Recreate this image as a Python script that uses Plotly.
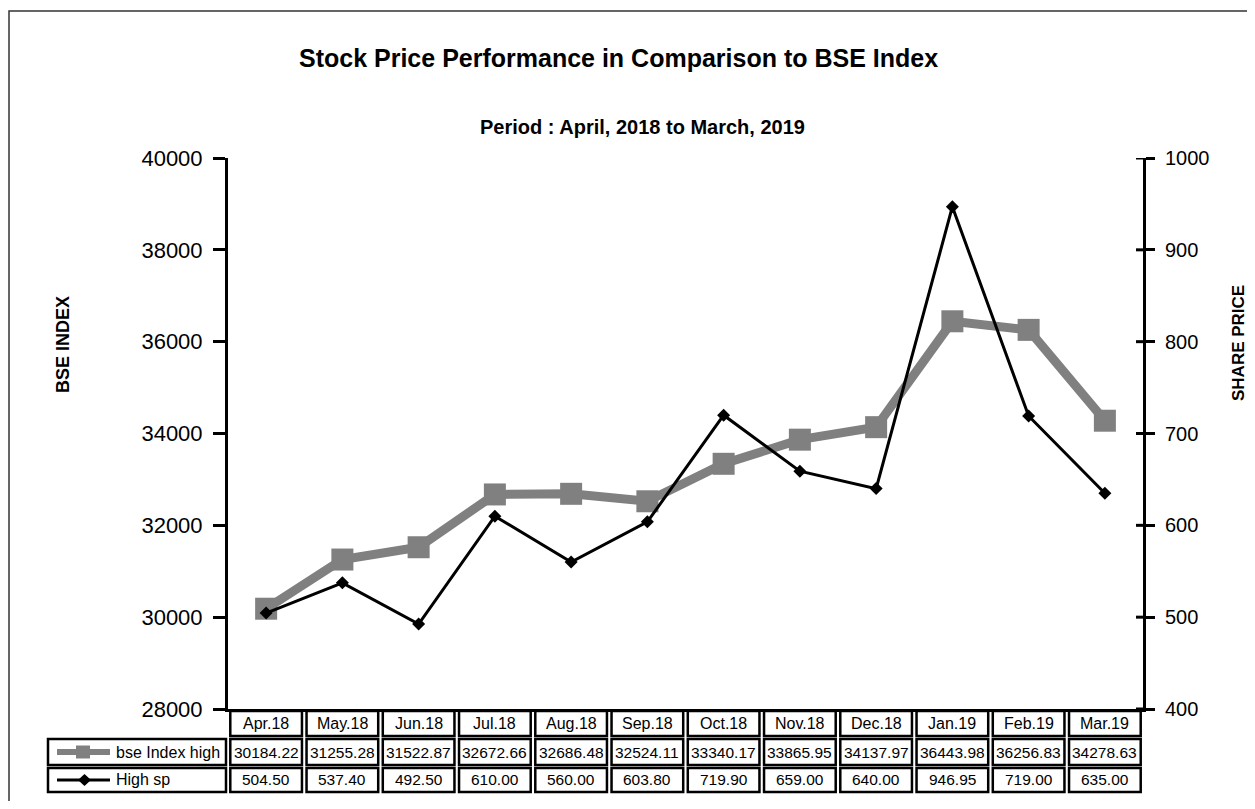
import plotly.graph_objects as go

months = ["Apr.18", "May.18", "Jun.18", "Jul.18", "Aug.18", "Sep.18",
          "Oct.18", "Nov.18", "Dec.18", "Jan.19", "Feb.19", "Mar.19"]
bse_high = [30184.22, 31255.28, 31522.87, 32672.66, 32686.48, 32524.11,
            33340.17, 33865.95, 34137.97, 36443.98, 36256.83, 34278.63]
high_sp = [504.50, 537.40, 492.50, 610.00, 560.00, 603.80,
           719.90, 659.00, 640.00, 946.95, 719.00, 635.00]
series_names = ["bse Index high", "High sp"]
y1_range, y1_step = [28000, 40000], 2000
y2_range, y2_step = [400, 1000], 100

W, H = 1255, 809
OFF = 8  # default body margin of the html page
FW, FH = W - 2 * OFF, H - 2 * OFF
L, R, T, B = 228, 1143, 158, 709  # plot area in page pixels
pw, ph = R - L, B - T


def px_x(x):
    return (x - L) / pw


def px_y(y):
    return (B - y) / ph


FONT = "Liberation Sans, Arial, sans-serif"
GRAY = "#808080"

fig = go.Figure()
fig.add_trace(go.Scatter(
    x=months, y=bse_high, name=series_names[0], mode="lines+markers",
    line=dict(color=GRAY, width=9),
    marker=dict(symbol="square", size=22, color=GRAY),
    yaxis="y", showlegend=False))
fig.add_trace(go.Scatter(
    x=months, y=high_sp, name=series_names[1], mode="lines+markers",
    line=dict(color="black", width=3),
    marker=dict(symbol="diamond", size=10, color="black"),
    yaxis="y2", showlegend=False))

shapes = []
annotations = []


def ann(x, xref, y, text, size, xanchor="center", angle=0):
    annotations.append(dict(x=x, xref=xref, y=y, yref="paper", text=text,
                            showarrow=False, xanchor=xanchor, yanchor="middle",
                            textangle=angle,
                            font=dict(family=FONT, size=size, color="black")))


# table rows (page pixel y ranges)
rows = [(711, 736), (739, 765), (768, 792)]
rmid = [px_y((a + b) / 2) for a, b in rows]
for i, m in enumerate(months):
    for r, (y0, y1) in enumerate(rows):
        shapes.append(dict(type="rect", xref="x", yref="paper",
                           x0=i - 0.5 + 0.03, x1=i + 0.5 - 0.03,
                           y0=px_y(y1), y1=px_y(y0),
                           line=dict(color="black", width=2.5),
                           fillcolor="white", layer="above"))
    ann(m, "x", rmid[0], m, 16)
    ann(m, "x", rmid[1], f"{bse_high[i]:.2f}", 15.5)
    ann(m, "x", rmid[2], f"{high_sp[i]:.2f}", 15.5)

# legend column
for r in (1, 2):
    y0, y1 = rows[r]
    shapes.append(dict(type="rect", xref="paper", yref="paper",
                       x0=px_x(48), x1=px_x(226), y0=px_y(y1), y1=px_y(y0),
                       line=dict(color="black", width=2.5), fillcolor="white",
                       layer="above"))

ym1, ym2 = rmid[1], rmid[2]
shapes.append(dict(type="line", xref="paper", yref="paper",
                   x0=px_x(57), x1=px_x(110), y0=ym1, y1=ym1,
                   line=dict(color=GRAY, width=6), layer="above"))
shapes.append(dict(type="rect", xref="paper", yref="paper",
                   x0=px_x(76), x1=px_x(90), y0=ym1 - 6.5 / ph, y1=ym1 + 6.5 / ph,
                   line=dict(color=GRAY, width=0), fillcolor=GRAY, layer="above"))
shapes.append(dict(type="line", xref="paper", yref="paper",
                   x0=px_x(57), x1=px_x(110), y0=ym2, y1=ym2,
                   line=dict(color="black", width=3), layer="above"))
shapes.append(dict(type="path", xref="paper", yref="paper",
                   path=(f"M {px_x(78)} {ym2} L {px_x(84.5)} {ym2 + 6 / ph} "
                         f"L {px_x(91)} {ym2} L {px_x(84.5)} {ym2 - 6 / ph} Z"),
                   line=dict(color="black", width=0), fillcolor="black",
                   layer="above"))
ann(px_x(114), "paper", ym1, series_names[0], 16, xanchor="left")
ann(px_x(114), "paper", ym2, series_names[1], 16, xanchor="left")

# inner half of the crossing ticks on the right axis
v = y2_range[0]
while v <= y2_range[1]:
    shapes.append(dict(type="line", xref="paper", yref="y2",
                       x0=px_x(1136), x1=px_x(1144), y0=v, y1=v,
                       line=dict(color="black", width=3), layer="above"))
    v += y2_step

# outer border (top/left visible)
shapes.append(dict(type="rect", xref="paper", yref="paper",
                   x0=px_x(9), x1=px_x(1300), y0=px_y(900), y1=px_y(11),
                   line=dict(color="#333333", width=1.5), layer="below"))

# titles
ann(px_x(618), "paper", px_y(58),
    "<b>Stock Price Performance in Comparison to BSE Index</b>", 25)
ann(px_x(642), "paper", px_y(127),
    "<b>Period : April, 2018 to March, 2019</b>", 20)
ann(px_x(63), "paper", px_y(345), "<b>BSE INDEX</b>", 18, angle=-90)
ann(px_x(1238), "paper", px_y(343), "<b>SHARE PRICE</b>", 17, angle=-90)

fig.update_layout(
    width=FW, height=FH,
    margin=dict(l=L - OFF, r=FW - (R - OFF), t=T - OFF, b=FH - (B - OFF),
                autoexpand=False, pad=0),
    paper_bgcolor="white", plot_bgcolor="white",
    xaxis=dict(type="category", categoryorder="array", categoryarray=months,
               range=[-0.5, 11.5], showticklabels=False, ticks="",
               showgrid=False, zeroline=False, showline=True,
               linecolor="black", linewidth=3),
    yaxis=dict(range=y1_range, dtick=y1_step, tick0=y1_range[0], tickformat="d",
               showgrid=False, zeroline=False, showline=True,
               linecolor="black", linewidth=3, ticks="outside",
               ticklen=12, tickwidth=3, tickcolor="black",
               ticklabelstandoff=6,
               tickfont=dict(family=FONT, size=22, color="black")),
    yaxis2=dict(range=y2_range, dtick=y2_step, tick0=y2_range[0],
                overlaying="y", side="right", showgrid=False, zeroline=False,
                showline=True, linecolor="black", linewidth=3,
                ticks="outside", ticklen=9, tickwidth=3, tickcolor="black",
                ticklabelstandoff=6,
                tickfont=dict(family=FONT, size=20, color="black")),
    shapes=shapes, annotations=annotations,
)

fig.write_html("out.html")
